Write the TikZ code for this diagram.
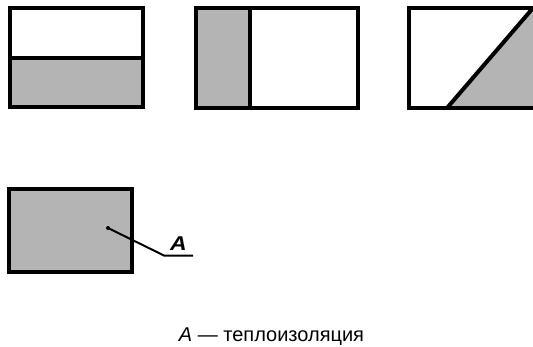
\documentclass[tikz,border=0pt]{standalone}
\usepackage{fontspec}
\setmainfont{Liberation Sans}
\begin{document}
\begin{tikzpicture}[x=1pt,y=-1pt,
  frame/.style={draw=black,line width=4pt,line join=miter},
  insul/.style={fill=insulgray},
  leader/.style={draw=black,line width=2pt}]
\definecolor{insulgray}{RGB}{180,180,180}
\useasboundingbox (0,0) rectangle (533,346);
\clip (0,0) rectangle (533,346);
% panel 1
\fill[insul] (10,58) rectangle (143,107);
\draw[frame] (10,8) rectangle (143,107);
\draw[frame] (10,58) -- (143,58);
% panel 2
\fill[insul] (196,8) rectangle (250,108);
\draw[frame] (196,8) rectangle (358,108);
\draw[frame] (250,8) -- (250,108);
% panel 3
\fill[insul] (447,108) -- (533,8) -- (560,8) -- (560,108) -- cycle;
\draw[frame] (409,8) rectangle (560,108);
\draw[frame] (447,108) -- (533,8);
% panel 4
\fill[insul] (9,189) rectangle (132,272);
\draw[frame] (9,189) rectangle (132,272);
\coordinate (dot) at (108,228);
\fill (dot) circle (2pt);
\node[font=\fontsize{20}{22}\selectfont\bfseries\itshape, inner sep=0pt, anchor=base, xscale=1.15] (labA) at (178.5,250) {A};
\coordinate (ulL) at (164,255.5);
\coordinate (ulR) at (193,255.5);
\draw[leader] (dot) -- (ulL) -- (ulR);
% caption
\node[font=\fontsize{20}{22}\selectfont, inner sep=0pt, anchor=base] (caption) at (271.5,341.5) {\textit{A} — теплоизоляция};
\end{tikzpicture}
\end{document}
